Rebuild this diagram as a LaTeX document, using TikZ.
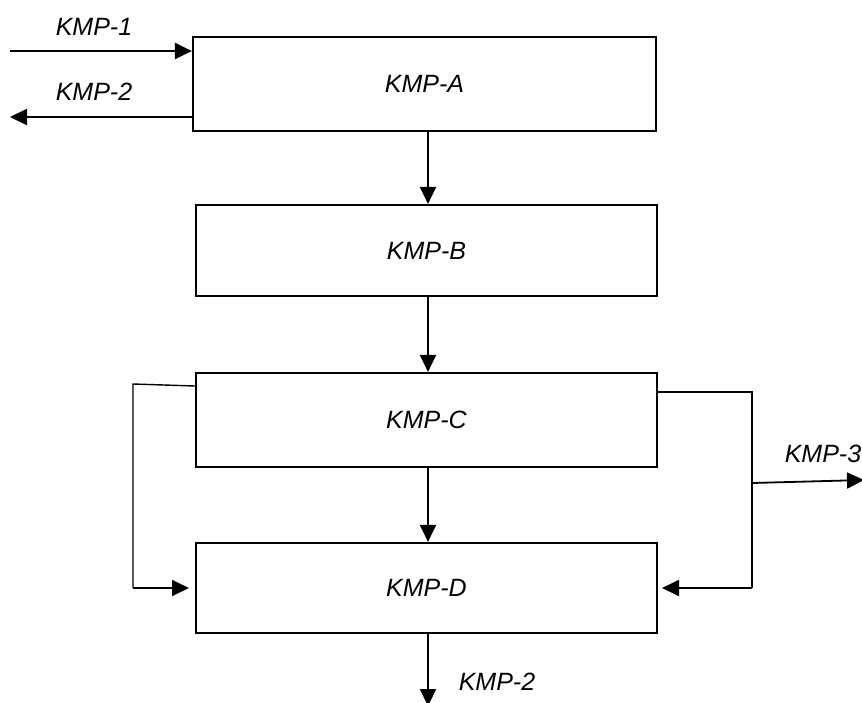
\documentclass[tikz,border=0pt]{standalone}
\usepackage{fontspec}
\setmainfont{Liberation Sans}
\usetikzlibrary{arrows.meta}
\begin{document}
\begin{tikzpicture}[x=1pt,y=-1pt,
  box/.style={draw,line width=2.2pt,inner sep=0pt,minimum width=461pt,font=\fontsize{25}{30}\selectfont\itshape},
  lbl/.style={inner sep=0pt,font=\fontsize{25}{30}\selectfont\itshape},
  arr/.style={line width=2.2pt,-{Triangle[length=17pt,width=16pt]}},
  thin/.style={line width=1.4pt},
  tarr/.style={line width=1.8pt,-{Triangle[length=17pt,width=16pt]}}]
\useasboundingbox (0,0) rectangle (862,702);
\node[box,minimum width=463pt,minimum height=94pt] (A) at (424.5,84) {KMP-A};
\node[box,minimum height=91pt] (B) at (426.5,250.5) {KMP-B};
\node[box,minimum height=94pt] (C) at (426.5,420) {KMP-C};
\node[box,minimum height=90pt] (D) at (426.5,588) {KMP-D};
% labels
\node[lbl] (l1) at (94,27) {KMP-1};
\node[lbl] (l2) at (94,92) {KMP-2};
\node[lbl] (l3) at (823,454) {KMP-3};
\node[lbl] (l4) at (497,682) {KMP-2};
% coordinates
\coordinate (in1) at (10,51);
\coordinate (out2) at (10,117);
\coordinate (ll1) at (133,384);
\coordinate (ll2) at (133,588);
\coordinate (lt) at (189,588);
\coordinate (rr1) at (752,392);
\coordinate (rr2) at (752,588);
\coordinate (rt) at (662,588);
\coordinate (rm) at (752,483);
\coordinate (r3) at (864,480);
\coordinate (bot) at (428,706);
% top arrows
\draw[arr] (in1) -- (A.west |- in1);
\draw[arr] (A.west |- out2) -- (out2);
% vertical arrows
\draw[arr] (428,0 |- A.south) -- (428,0 |- B.north);
\draw[arr] (428,0 |- B.south) -- (428,0 |- C.north);
\draw[arr] (428,0 |- C.south) -- (428,0 |- D.north);
\draw[arr] (428,0 |- D.south) -- (bot);
% left loop
\draw[thin] (C.west |- 0,386) -- (ll1) -- (ll2);
\draw[tarr] (ll2) -- (lt);
% right loop
\draw[thin] (C.east |- rr1) -- (rr1) -- (rr2);
\draw[tarr] (rr2) -- (rt);
\draw[tarr] (rm) -- (r3);
\end{tikzpicture}
\end{document}
